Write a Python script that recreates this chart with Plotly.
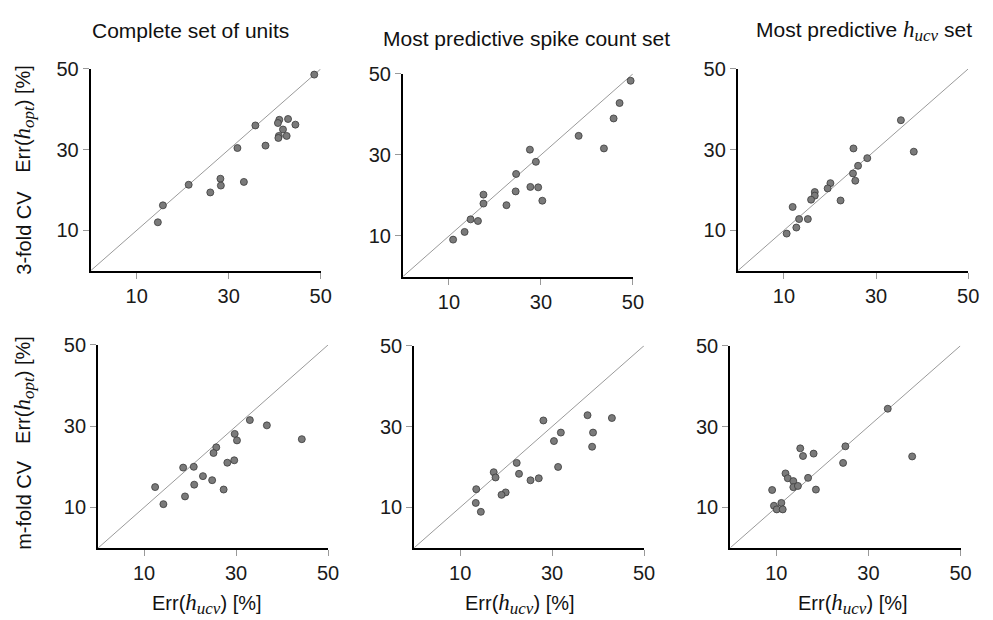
import plotly.graph_objects as go

# ---- data ----
p1_x = [48.6, 35.8, 31.9, 38.0, 41.0, 42.9, 40.7, 44.5, 41.8, 40.9, 40.8, 42.6, 21.3, 28.2, 28.3, 26.0, 33.3, 15.7, 14.6]
p1_y = [48.6, 36.0, 30.4, 31.0, 37.4, 37.6, 36.6, 36.2, 35.0, 33.4, 32.9, 33.4, 21.3, 22.8, 21.1, 19.4, 22.0, 16.2, 12.0]

p2_x = [49.5, 47.1, 45.8, 38.2, 43.7, 27.6, 28.9, 24.6, 27.7, 29.4, 24.5, 30.3, 22.5, 17.5, 17.5, 14.7, 16.3, 13.4, 10.9]
p2_y = [48.3, 42.8, 39.0, 34.7, 31.6, 31.3, 28.3, 25.3, 22.1, 22.0, 21.0, 18.7, 17.6, 20.2, 18.0, 14.1, 13.7, 11.0, 9.1]

p3_x = [35.4, 38.2, 25.1, 28.1, 26.1, 25.0, 25.5, 20.1, 19.5, 16.7, 16.7, 15.9, 22.3, 11.9, 13.3, 15.2, 12.7, 10.6]
p3_y = [37.3, 29.5, 30.3, 27.9, 26.0, 24.1, 22.3, 21.7, 20.4, 19.5, 18.6, 17.6, 17.4, 15.8, 12.8, 12.8, 10.7, 9.2]

p4_x = [33.0, 36.7, 44.3, 29.7, 30.2, 25.7, 25.1, 28.1, 29.6, 18.5, 20.8, 22.8, 24.8, 20.9, 27.3, 12.4, 18.9, 14.2]
p4_y = [31.5, 30.2, 26.8, 28.1, 26.5, 24.8, 23.4, 21.0, 21.6, 19.8, 20.0, 17.7, 16.7, 15.6, 14.4, 15.0, 12.7, 10.8]

p5_x = [37.7, 43.0, 28.1, 38.9, 31.9, 30.4, 38.7, 22.3, 31.3, 22.8, 17.3, 17.7, 27.1, 25.3, 19.9, 19.0, 13.5, 13.4, 14.5]
p5_y = [32.8, 32.1, 31.5, 28.5, 28.5, 26.4, 25.0, 21.0, 20.0, 18.3, 18.7, 17.4, 17.2, 16.7, 13.7, 13.1, 14.5, 11.1, 8.9]

p6_x = [34.2, 39.5, 25.0, 24.5, 15.2, 18.1, 15.8, 12.0, 12.5, 13.7, 16.9, 13.7, 14.7, 18.6, 9.1, 9.5, 11.1, 10.1, 11.4]
p6_y = [34.4, 22.6, 25.1, 21.0, 24.6, 23.3, 22.7, 18.4, 17.2, 16.5, 17.3, 15.0, 15.3, 14.4, 14.3, 10.4, 11.1, 9.5, 9.5]

diag = [0, 50]
tick_vals = [10, 30, 50]
tick_text = ["10", "30", "50"]

SERIF = "font-family:'Liberation Serif', 'DejaVu Serif', serif"
def h_sub(s):
    return (f'<span style="{SERIF};font-size:23px"><i>h</i></span>'
            f'<sub><span style="{SERIF};font-size:17px"><i>{s}</i></span></sub>')

col_titles = ["Complete set of units", "Most predictive spike count set",
              "Most predictive " + h_sub("ucv") + " set"]
row_labels = ["3-fold CV", "m-fold CV"]
ylab = "Err(" + h_sub("opt") + ") [%]"
xlab = "Err(" + h_sub("ucv") + ") [%]"

panels = [(p1_x, p1_y), (p2_x, p2_y), (p3_x, p3_y), (p4_x, p4_y), (p5_x, p5_y), (p6_x, p6_y)]

W, H = 993, 620
# pixel boxes of each panel: (x0, x1, ytop, ybottom)
boxes = [(91.7, 324.3, 59, 264.4), (407.5, 640.0, 64, 270.3), (746.1, 979.0, 59, 264.4),
         (99.2, 331.7, 340, 546.7), (418.8, 651.3, 340.7, 546.5), (738.4, 971.3, 340.7, 546.5)]

fig = go.Figure()
FONT = "Liberation Sans, Arial, sans-serif"

for i, ((xs, ys), (x0, x1, yt, yb)) in enumerate(zip(panels, boxes)):
    n = "" if i == 0 else str(i + 1)
    xa, ya = "x" + n, "y" + n
    fig.add_trace(go.Scatter(x=diag, y=diag, mode="lines", xaxis=xa, yaxis=ya,
                             line=dict(color="#9a9a9a", width=1), showlegend=False,
                             hoverinfo="skip", cliponaxis=False))
    fig.add_trace(go.Scatter(x=xs, y=ys, mode="markers", xaxis=xa, yaxis=ya,
                             marker=dict(size=7, color="#7a7a7a", line=dict(color="#3a3a3a", width=0.8)),
                             showlegend=False, cliponaxis=False))
    common = dict(range=[0, 50], tickvals=tick_vals, ticktext=tick_text, showgrid=False,
                  zeroline=False, showline=True, linecolor="black", linewidth=2,
                  ticks="outside", ticklen=6, tickwidth=1, tickcolor="#999999",
                  tickfont=dict(family=FONT, size=20, color="#1a1a1a"))
    fig.layout["xaxis" + n] = dict(domain=[x0 / W, x1 / W], anchor=ya, **common)
    fig.layout["yaxis" + n] = dict(domain=[1 - yb / H, 1 - yt / H], anchor=xa, **common)

ann = []
title_pos = [(193, 20), (532, 28), (874, 20)]
for t, (px, py) in zip(col_titles, title_pos):
    ann.append(dict(text=t, x=px / W, y=1 - py / H, xref="paper", yref="paper",
                    showarrow=False, xanchor="center", yanchor="middle",
                    font=dict(family=FONT, size=21, color="#111")))
for lab, (pyc, pye) in zip(row_labels, [(226, 110), (503, 386)]):
    ann.append(dict(text=lab, x=24 / W, y=1 - pyc / H, xref="paper", yref="paper", textangle=-90,
                    showarrow=False, xanchor="center", yanchor="middle",
                    font=dict(family=FONT, size=20, color="#111")))
    ann.append(dict(text=ylab, x=24 / W, y=1 - pye / H, xref="paper", yref="paper", textangle=-90,
                    showarrow=False, xanchor="center", yanchor="middle",
                    font=dict(family=FONT, size=20, color="#111")))
for px in [209, 526, 863]:
    ann.append(dict(text=xlab, x=px / W, y=1 - 604 / H, xref="paper", yref="paper",
                    showarrow=False, xanchor="center", yanchor="middle",
                    font=dict(family=FONT, size=20, color="#111")))

fig.update_layout(width=W, height=H, autosize=False, margin=dict(l=0, r=0, t=0, b=0),
                  plot_bgcolor="white", paper_bgcolor="white", annotations=ann)

fig.write_html("out.html")
